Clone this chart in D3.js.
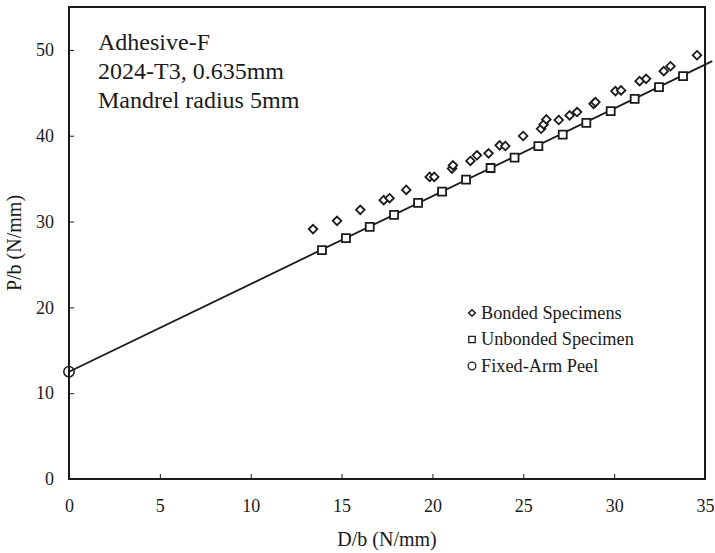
<!DOCTYPE html>
<html><head><meta charset="utf-8">
<script src="https://cdn.jsdelivr.net/npm/d3@7"></script>
<style>body{margin:0;background:#fff}text{font-family:"Liberation Serif","Times New Roman",serif;fill:#1a1a1a}</style>
</head><body><svg id="c" width="715" height="553"></svg>
<script>
const xTicks=[0,5,10,15,20,25,30,35];
const yTicks=[0,10,20,30,40,50];
const bondedX=[13.43,14.75,16.03,17.32,17.64,18.56,19.85,20.1,21.08,21.13,22.09,22.45,23.09,23.7,24.01,24.99,25.98,26.12,26.27,26.95,27.55,27.96,28.87,28.97,30.07,30.38,31.4,31.76,32.73,33.1,34.56];
const bondedY=[29.12,30.08,31.36,32.49,32.72,33.69,35.2,35.2,36.17,36.55,37.06,37.72,37.95,38.88,38.8,39.97,40.81,41.32,41.9,41.83,42.37,42.76,43.72,43.92,45.2,45.28,46.36,46.63,47.52,48.1,49.38];
const unbondedX=[13.92,15.24,16.55,17.89,19.21,20.53,21.85,23.2,24.52,25.83,27.17,28.47,29.81,31.13,32.47,33.79];
const unbondedY=[26.67,28.07,29.38,30.78,32.17,33.49,34.88,36.24,37.44,38.8,40.12,41.5,42.86,44.3,45.66,46.94];
const fixedX=[0], fixedY=[12.5];
const fitLineX=[0,35.4], fitLineY=[12.5,48.7];
const annotation=["Adhesive-F","2024-T3, 0.635mm","Mandrel radius 5mm"];
const legendLabels=["Bonded Specimens","Unbonded Specimen","Fixed-Arm Peel"];

const W=715,H=553,m={l:69,r:10,t:7,b:74};
const svg=d3.select("#c");
const x=d3.scaleLinear().domain([0,35]).range([m.l,W-m.r]);
const y=d3.scaleLinear().domain([0,55]).range([H-m.b,m.t]);
const ink="#1a1a1a";

const gx=svg.append("g").attr("transform",`translate(0,${H-m.b})`)
 .call(d3.axisBottom(x).tickValues(xTicks).tickSizeInner(-5).tickSizeOuter(0).tickPadding(20));
const gy=svg.append("g").attr("transform",`translate(${m.l},0)`)
 .call(d3.axisLeft(y).tickValues(yTicks).tickSizeInner(-5).tickSizeOuter(0).tickPadding(15));
[gx,gy].forEach(g=>{g.select(".domain").remove();g.selectAll("line").attr("stroke",ink).attr("stroke-width",1);
 g.selectAll("text").style("font-family","'Liberation Serif',serif").style("font-size","18px").attr("fill",ink);});

// line
svg.append("path").datum(fitLineX.map((v,i)=>[v,fitLineY[i]]))
 .attr("d",d3.line().x(d=>x(d[0])).y(d=>y(d[1]))).attr("fill","none").attr("stroke",ink).attr("stroke-width",1.8);

// frame
svg.append("rect").attr("x",m.l).attr("y",m.t).attr("width",W-m.r-m.l).attr("height",H-m.b-m.t)
 .attr("fill","none").attr("stroke",ink).attr("stroke-width",2);

const diamond=r=>`M0,${-r}L${r},0L0,${r}L${-r},0Z`;
const square=r=>`M${-r},${-r}H${r}V${r}H${-r}Z`;

svg.append("g").selectAll("path").data(bondedX.map((v,i)=>[v,bondedY[i]])).join("path")
 .attr("d",diamond(4.3)).attr("transform",d=>`translate(${x(d[0])},${y(d[1])})`)
 .attr("fill","#fff").attr("stroke",ink).attr("stroke-width",1.8);
svg.append("g").selectAll("path").data(unbondedX.map((v,i)=>[v,unbondedY[i]])).join("path")
 .attr("d",square(4)).attr("transform",d=>`translate(${x(d[0])},${y(d[1])})`)
 .attr("fill","#fff").attr("stroke",ink).attr("stroke-width",1.8);
svg.append("g").selectAll("circle").data(fixedX.map((v,i)=>[v,fixedY[i]])).join("circle")
 .attr("cx",d=>x(d[0])).attr("cy",d=>y(d[1])).attr("r",5.2)
 .attr("fill","none").attr("stroke",ink).attr("stroke-width",1.5);

// annotation
svg.append("g").selectAll("text").data(annotation).join("text")
 .attr("x",98).attr("y",(d,i)=>50+i*29).style("font-size","24px").text(d=>d);

// legend
const lg=svg.append("g");
const lx=472, ly=[313,339.5,366];
lg.append("path").attr("d",diamond(3.3)).attr("transform",`translate(${lx},${ly[0]})`).attr("fill","#fff").attr("stroke",ink).attr("stroke-width",1.5);
lg.append("path").attr("d",square(3.2)).attr("transform",`translate(${lx},${ly[1]})`).attr("fill","#fff").attr("stroke",ink).attr("stroke-width",1.3);
lg.append("circle").attr("cx",lx).attr("cy",ly[2]).attr("r",3.8).attr("fill","none").attr("stroke",ink).attr("stroke-width",1.3);
lg.selectAll("text").data(legendLabels).join("text").attr("x",481).attr("y",(d,i)=>ly[i]+5.5)
 .style("font-size","18.3px").text(d=>d);

// axis titles
svg.append("text").attr("x",(m.l+W-m.r)/2).attr("y",546).attr("text-anchor","middle").style("font-size","20px").text("D/b (N/mm)");
svg.append("text").attr("transform",`translate(21,${(m.t+H-m.b)/2}) rotate(-90)`).attr("text-anchor","middle").style("font-size","20px").text("P/b (N/mm)");
</script></body></html>
